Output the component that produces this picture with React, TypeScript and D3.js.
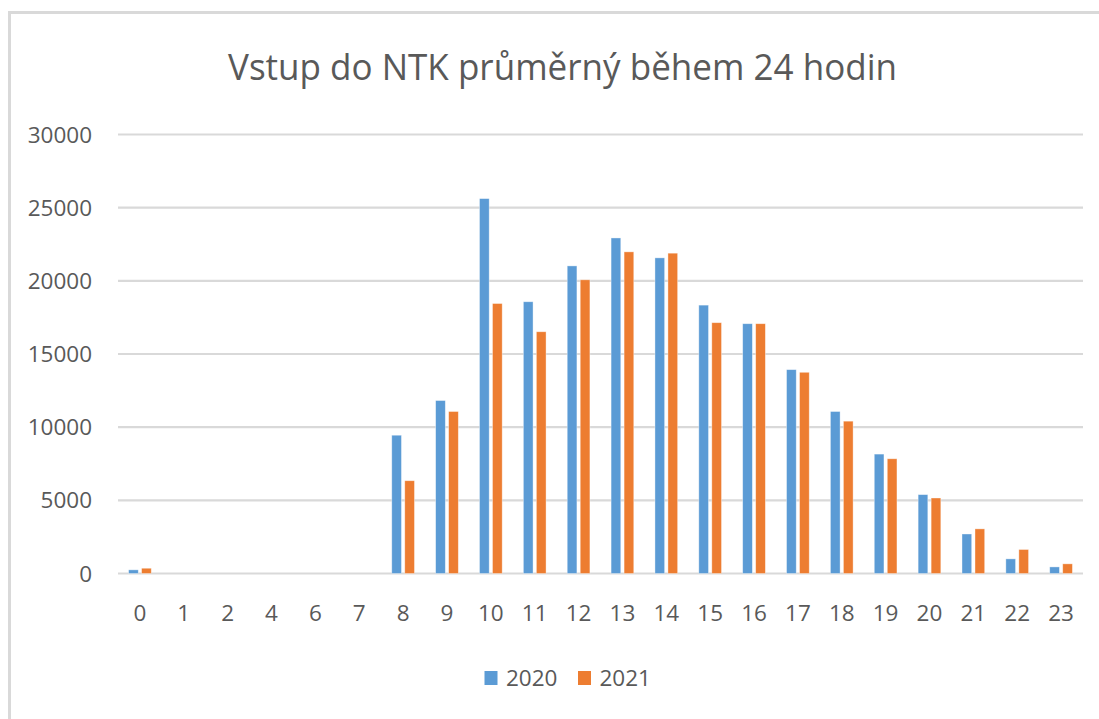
import React from "react";
import * as d3 from "d3";

const categories = ["0", "1", "2", "4", "6", "7", "8", "9", "10", "11", "12", "13", "14", "15", "16", "17", "18", "19", "20", "21", "22", "23"];
const seriesNames = ["2020", "2021"];
const values2020 = [250, 0, 0, 0, 0, 0, 9450, 11820, 25620, 18570, 21020, 22930, 21570, 18340, 17070, 13930, 11070, 8160, 5390, 2700, 1000, 450];
const values2021 = [360, 0, 0, 0, 0, 0, 6340, 11070, 18450, 16520, 20070, 21980, 21890, 17140, 17070, 13750, 10410, 7840, 5160, 3050, 1640, 660];
const yTicks = [0, 5000, 10000, 15000, 20000, 25000, 30000];
const colors = ["#5B9BD5", "#ED7D31"];
const title = "Vstup do NTK průměrný během 24 hodin";

export default function App() {
  const W = 1099;
  const H = 719;
  const x = d3.scaleBand<string>().domain(categories).range([118, 1083]).padding(0);
  const bw = x.bandwidth();
  const xs = d3
    .scaleBand<string>()
    .domain(seriesNames)
    .range([bw / 2 - 11.35, bw / 2 + 11.35])
    .paddingInner(0.254)
    .paddingOuter(0);
  const y = d3.scaleLinear().domain([0, 30000]).range([573.5, 134.5]);
  const seriesVals = [values2020, values2021];
  const font = "'Open Sans', 'Liberation Sans', sans-serif";
  const textColor = "#595959";

  return (
    <svg
      width={W}
      height={H}
      style={{ position: "absolute", left: 0, top: 0, background: "#fff" }}
      fontFamily={font}
    >
      <rect x={0} y={0} width={W} height={H} fill="#fff" />
      {/* frame */}
      <line x1={9.5} x2={9.5} y1={12} y2={H} stroke="#D9D9D9" strokeWidth={3} />
      <line x1={8} x2={W} y1={12.5} y2={12.5} stroke="#D9D9D9" strokeWidth={3} />

      {/* title */}
      <text
        x={562.5}
        y={80}
        textAnchor="middle"
        fontSize={36}
        fill={textColor}
        textLength={669}
        lengthAdjust="spacingAndGlyphs"
      >
        {title}
      </text>

      {/* gridlines */}
      {yTicks.map((t) => (
        <line key={t} x1={118} x2={1083} y1={y(t)} y2={y(t)} stroke="#D9D9D9" strokeWidth={2.2} />
      ))}

      {/* y labels */}
      {yTicks.map((t) => (
        <text key={"yl" + t} x={92} y={y(t) + 8} textAnchor="end" fontSize={22.5} fill={textColor}>
          {t}
        </text>
      ))}

      {/* bars */}
      {seriesNames.map((s, si) => (
        <g key={s}>
          {categories.map((c, i) => {
            const v = seriesVals[si][i];
            if (!v) return null;
            const bx = (x(c) as number) + (xs(s) as number);
            return (
              <rect
                key={c}
                x={bx}
                y={y(v)}
                width={xs.bandwidth()}
                height={y(0) - y(v)}
                fill={colors[si]}
                stroke="#ffffff"
                strokeOpacity={0.5}
                strokeWidth={0.75}
              />
            );
          })}
        </g>
      ))}

      {/* x labels */}
      {categories.map((c) => (
        <text
          key={"xl" + c}
          x={(x(c) as number) + bw / 2}
          y={621}
          textAnchor="middle"
          fontSize={22.5}
          fill={textColor}
        >
          {c}
        </text>
      ))}

      {/* legend */}
      {seriesNames.map((s, si) => {
        const lx = si === 0 ? 484.5 : 578;
        return (
          <g key={"lg" + s}>
            <rect x={lx} y={671} width={13} height={14} fill={colors[si]} />
            <text x={lx + 21.5} y={686} fontSize={22.5} fill={textColor}>
              {s}
            </text>
          </g>
        );
      })}
    </svg>
  );
}
